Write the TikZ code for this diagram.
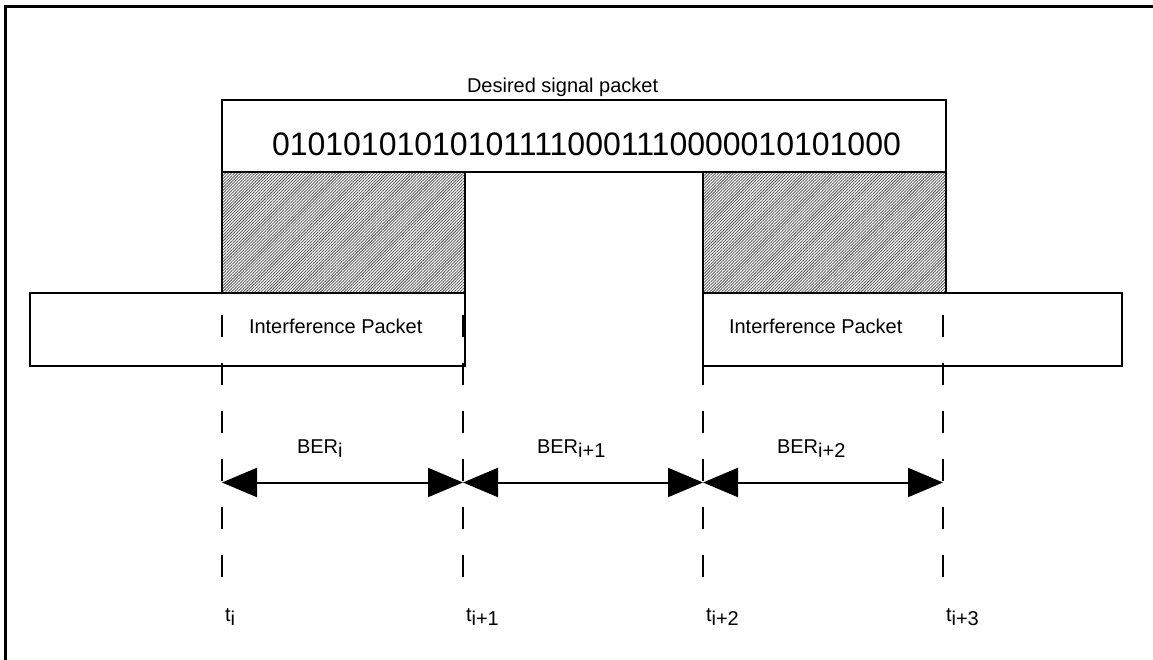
\documentclass[tikz,border=0pt]{standalone}
\usepackage{fontspec}
\setmainfont{Liberation Sans}
\usetikzlibrary{arrows.meta,patterns.meta}
\newcommand{\lowsub}[1]{\raisebox{-4.5pt}{#1}}
\begin{document}
\begin{tikzpicture}[x=1pt,y=-1pt,
  box/.style={draw=black, line width=2pt, outer sep=0pt, inner sep=0pt, anchor=north west},
  hatch/.style={box, pattern={Lines[angle=45,distance=2.1pt,line width=0.75pt]}, pattern color=black!72},
  lbl/.style={inner sep=0pt, outer sep=0pt, anchor=base west, font=\fontsize{20}{24}\selectfont},
  vdash/.style={line width=2pt, dash pattern=on 22pt off 26pt},
  dimarrow/.style={line width=2pt, {Triangle[length=35pt,width=29pt]}-{Triangle[length=35pt,width=29pt]}},
  frameline/.style={line width=3pt}]
\fill[white] (0,0) rectangle (1153,660);
\useasboundingbox (0,0) rectangle (1153,660);
% outer frame
\draw[frameline] (5.5,660) -- (5.5,6.5) -- (1153,6.5);
% boxes
\node[hatch, minimum width=243pt, minimum height=120.5pt] (ov1) at (222,172.5) {};
\node[hatch, minimum width=243pt, minimum height=120.5pt] (ov2) at (703,172.5) {};
\node[box, minimum width=724pt, minimum height=72.5pt] (sig) at (222,100) {};
\node[box, minimum width=435pt, minimum height=73.5pt] (int1) at (30,292.5) {};
\node[box, minimum width=419pt, minimum height=73.5pt] (int2) at (703,292.5) {};
% texts
\node[lbl] (title) at (467,93) {Desired signal packet};
\node[inner sep=0pt, outer sep=0pt, anchor=base west] (bits) at (272,156)
  {\fontsize{32.5}{36}\selectfont\scalebox{0.985}[1]{010101010101011110001110000010101000}};
\node[lbl] (ip1) at (249,333) {Interference Packet};
\node[lbl] (ip2) at (729,333) {Interference Packet};
\node[lbl] (ber1) at (297,453) {BER\lowsub{i}};
\node[lbl] (ber2) at (537,453) {BER\lowsub{i+1}};
\node[lbl] (ber3) at (777,453) {BER\lowsub{i+2}};
\node[lbl] (tl0) at (225,621) {t\lowsub{i}};
\node[lbl] (tl1) at (466,621) {t\lowsub{i+1}};
\node[lbl] (tl2) at (706,621) {t\lowsub{i+2}};
\node[lbl] (tl3) at (946,621) {t\lowsub{i+3}};
% dashed time markers
\coordinate (d0t) at (222,315); \coordinate (d0b) at (222,577);
\coordinate (d1t) at (463,315); \coordinate (d1b) at (463,577);
\coordinate (d2t) at (703,315); \coordinate (d2b) at (703,577);
\coordinate (d3t) at (943,315); \coordinate (d3b) at (943,577);
\draw[vdash] (d0t) -- (d0b);
\draw[vdash] (d1t) -- (d1b);
\draw[vdash] (d2t) -- (d2b);
\draw[vdash] (d3t) -- (d3b);
% dimension arrows
\coordinate (a0) at (222,482.5);
\coordinate (a1) at (463,482.5);
\coordinate (a2) at (703,482.5);
\coordinate (a3) at (943,482.5);
\draw[dimarrow] (a0) -- (a1);
\draw[dimarrow] (a1) -- (a2);
\draw[dimarrow] (a2) -- (a3);
\end{tikzpicture}
\end{document}
